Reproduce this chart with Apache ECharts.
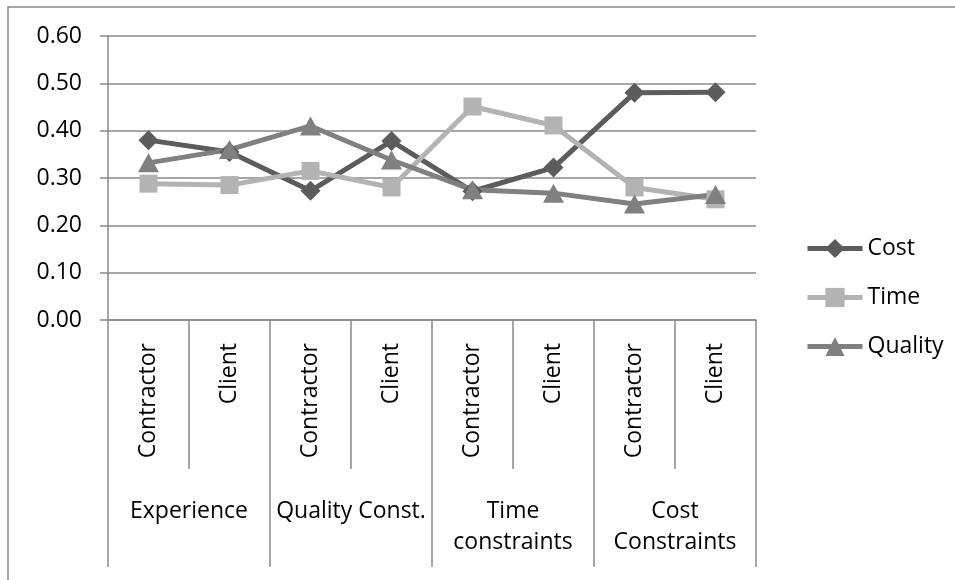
<!DOCTYPE html>
<html>
<head>
<meta charset="utf-8">
<script src="https://cdn.jsdelivr.net/npm/echarts@6/dist/echarts.min.js"></script>
<style>
  html, body { margin: 0; padding: 0; background: #fff; }
  #chart { width: 955px; height: 580px; }
</style>
</head>
<body>
<div id="chart"></div>
<script>
// sub categories (who answered) and their groups
const roles = ['Contractor', 'Client', 'Contractor', 'Client', 'Contractor', 'Client', 'Contractor', 'Client']
const groups = ['Experience', 'Quality Const.', 'Time\nconstraints', 'Cost\nConstraints']
const yTicks = [0, 0.1, 0.2, 0.3, 0.4, 0.5, 0.6]

const cost = [0.38, 0.355, 0.273, 0.378, 0.272, 0.322, 0.48, 0.481]
const time = [0.288, 0.285, 0.315, 0.28, 0.451, 0.411, 0.28, 0.255]
const quality = [0.332, 0.36, 0.41, 0.338, 0.275, 0.268, 0.245, 0.265]

const myChart = echarts.init(document.getElementById('chart'))
const font = "'Open Sans', 'Noto Sans', sans-serif"
const gridColor = '#898989'
const fs = 23

const option = {
    animation: false,
    textStyle: { fontFamily: font },
    graphic: [{
        type: 'rect',
        shape: { x: 8, y: 7, width: 1200, height: 900 },
        style: { fill: 'none', stroke: gridColor, lineWidth: 1.5 }
    }],
    grid: { left: 108, top: 36, right: 199, bottom: 260 },
    legend: {
        orient: 'vertical',
        left: 805,
        top: 237,
        padding: 0,
        itemWidth: 55,
        itemHeight: 24,
        itemGap: 26,
        lineStyle: { width: 5 },
        textStyle: { fontSize: fs, color: '#000', fontFamily: font },
        data: ['Cost', 'Time', 'Quality']
    },
    xAxis: [{
        type: 'category',
        data: roles,
        axisLine: { lineStyle: { color: gridColor, width: 1.5 } },
        axisTick: { show: true, length: 149, interval: 0, lineStyle: { color: gridColor, width: 1.5 } },
        axisLabel: { rotate: 90, margin: 23, interval: 0, fontSize: fs, color: '#000' }
    }, {
        type: 'category',
        data: groups,
        position: 'bottom',
        axisLine: { show: false },
        axisTick: { show: true, length: 247, interval: 0, lineStyle: { color: gridColor, width: 1.5 } },
        axisLabel: { margin: 176, interval: 0, fontSize: fs, lineHeight: 31, color: '#000' }
    }],
    yAxis: {
        type: 'value',
        min: yTicks[0],
        max: yTicks[yTicks.length - 1],
        interval: 0.1,
        axisLine: { show: true, lineStyle: { color: gridColor, width: 1.5 } },
        axisTick: { show: true, length: 8, lineStyle: { color: gridColor, width: 1.5 } },
        axisLabel: { margin: 26, fontSize: fs, color: '#000', formatter: v => v.toFixed(2) },
        splitLine: { lineStyle: { color: gridColor, width: 1.5 } }
    },
    series: [{
        name: 'Cost',
        type: 'line',
        data: cost,
        symbol: 'diamond',
        symbolSize: 20,
        color: '#5c5c5c',
        lineStyle: { width: 5 }
    }, {
        name: 'Time',
        type: 'line',
        data: time,
        symbol: 'rect',
        symbolSize: 18,
        color: '#b3b3b3',
        lineStyle: { width: 5 }
    }, {
        name: 'Quality',
        type: 'line',
        data: quality,
        symbol: 'triangle',
        symbolSize: [21, 19],
        color: '#808080',
        lineStyle: { width: 5 }
    }]
}
myChart.setOption(option)
</script>
</body>
</html>
